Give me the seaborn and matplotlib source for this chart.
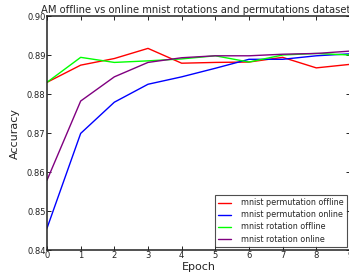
import numpy as np
import pandas as pd
import seaborn as sns
import matplotlib
matplotlib.use("Agg")
import matplotlib.pyplot as plt

# accuracy per epoch
epochs = list(range(10))
perm_offline = [0.8830, 0.8874, 0.8891, 0.8917, 0.8879, 0.8881, 0.8882, 0.8894, 0.8867, 0.8876]
perm_online = [0.8456, 0.8699, 0.8779, 0.8825, 0.8844, 0.8866, 0.8889, 0.8889, 0.8898, 0.8903]
rot_offline = [0.8830, 0.8894, 0.8881, 0.8885, 0.8890, 0.8898, 0.8882, 0.8900, 0.8904, 0.8900]
rot_online = [0.8579, 0.8782, 0.8844, 0.8881, 0.8893, 0.8898, 0.8898, 0.8902, 0.8904, 0.8910]

labels = ["mnist permutation offline", "mnist permutation online",
          "mnist rotation offline", "mnist rotation online"]
colors = ["red", "blue", "lime", "purple"]

df = pd.DataFrame({
    "epoch": epochs * 4,
    "accuracy": perm_offline + perm_online + rot_offline + rot_online,
    "run": np.repeat(labels, len(epochs)),
})

sns.set_theme(style="ticks")
plt.rcParams["font.family"] = ["DejaVu Sans"]
plt.rcParams["xtick.direction"] = "in"
plt.rcParams["ytick.direction"] = "in"

fig = plt.figure(figsize=(3.49, 2.78), dpi=100)
ax = fig.add_axes([0.1347, 0.1007, 0.868, 0.8417])

sns.lineplot(data=df, x="epoch", y="accuracy", hue="run", palette=colors,
             linewidth=1.0, ax=ax)

ax.set_xlim(0, 9)
ax.set_ylim(0.84, 0.90)
ax.set_xticks(epochs)
ax.set_yticks([0.84, 0.85, 0.86, 0.87, 0.88, 0.89, 0.90])
ax.set_yticklabels(["0.84", "0.85", "0.86", "0.87", "0.88", "0.89", "0.90"])
ax.tick_params(axis="both", labelsize=6, length=3, width=0.7, colors="#222222",
               top=True, right=True, pad=1)
for s in ax.spines.values():
    s.set_linewidth(1.1)
    s.set_color("#222222")

ax.set_xlabel("Epoch", fontsize=8, labelpad=1)
ax.set_ylabel("Accuracy", fontsize=8, labelpad=5)
ax.set_title("AM offline vs online mnist rotations and permutations datasets",
             fontsize=7.2, pad=2)

leg = ax.legend(loc="lower right", fontsize=5.8, frameon=True, fancybox=False,
                handlelength=1.6, handletextpad=1.2, borderaxespad=0.4,
                labelspacing=0.38)
leg.get_frame().set_edgecolor("#222222")
leg.get_frame().set_linewidth(0.8)

fig.savefig("out.png", dpi=100)
